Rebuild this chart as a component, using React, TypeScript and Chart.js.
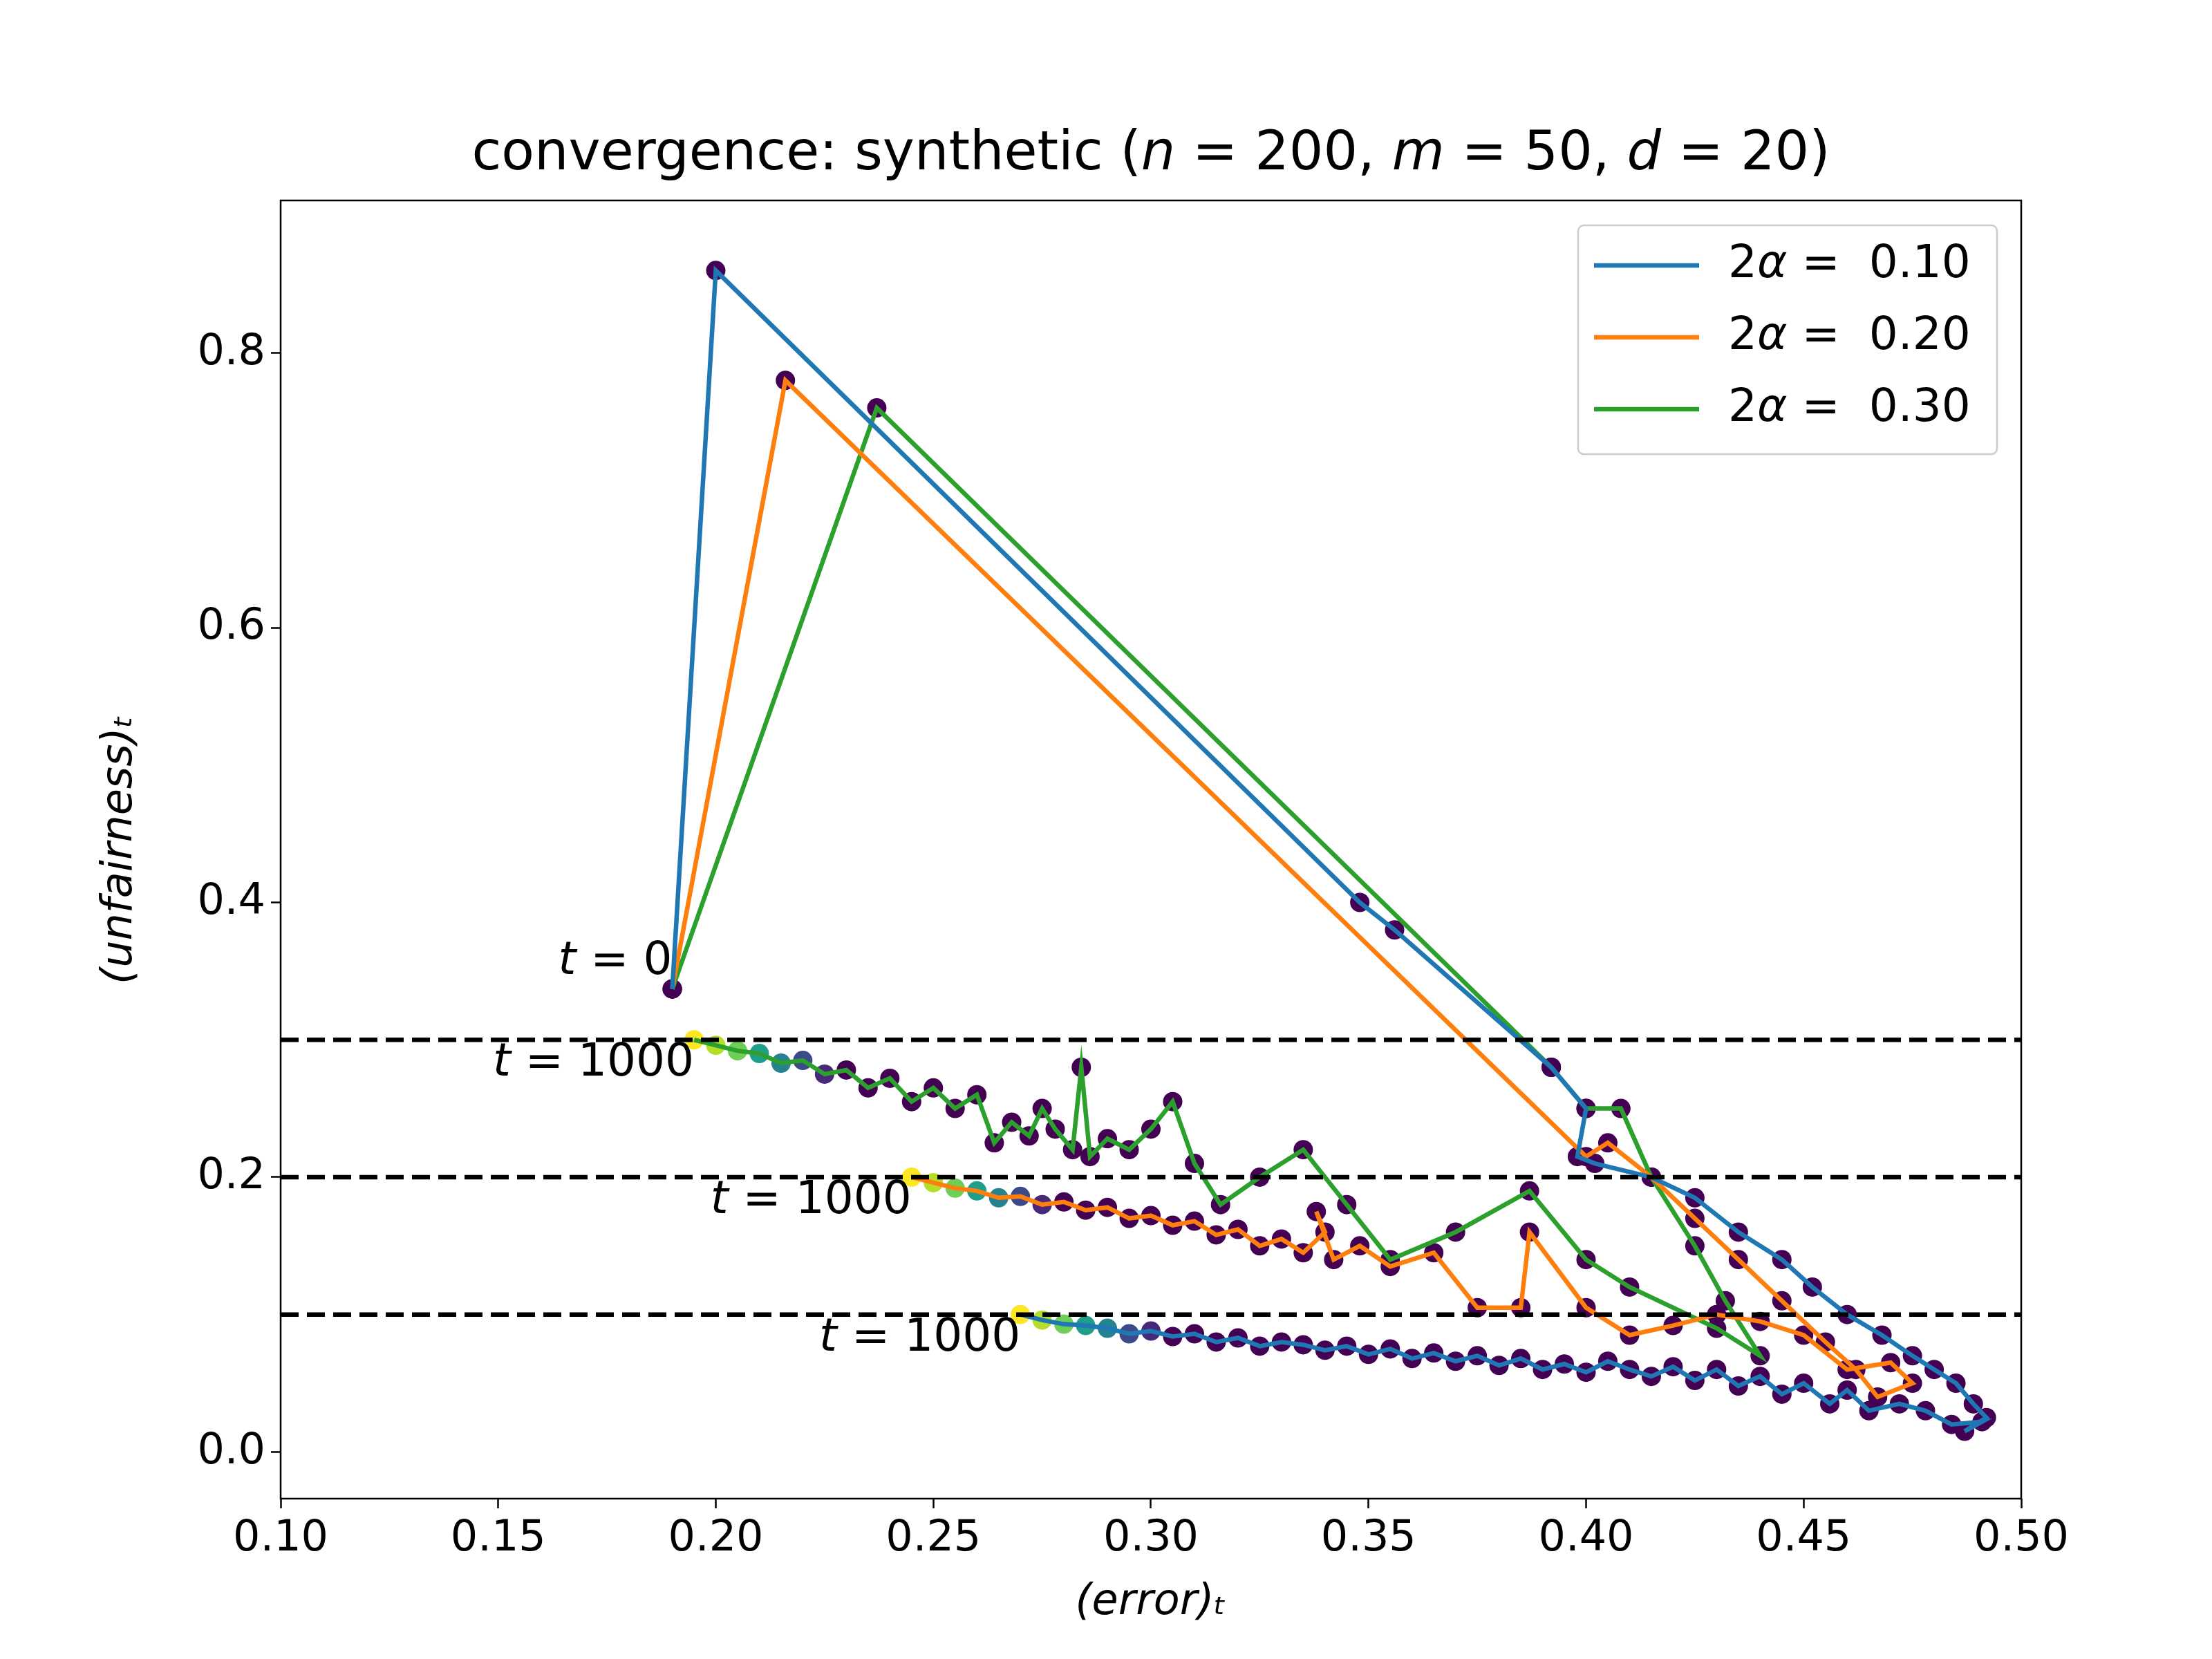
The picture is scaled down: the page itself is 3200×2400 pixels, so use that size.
import React, { useEffect, useRef } from "react";
import { Chart, registerables } from "chart.js";
Chart.register(...registerables);

const blueX = [0.19,0.200,0.348,0.356,0.392,0.400,0.398,0.402,0.415,0.425,0.435,0.445,0.452,0.460,0.468,0.475,0.480,0.485,0.489,0.492,0.487,0.491,0.484,0.478,0.472,0.465,0.460,0.456,0.450,0.445,0.440,0.435,0.430,0.425,0.420,0.415,0.410,0.405,0.400,0.395,0.390,0.385,0.380,0.375,0.370,0.365,0.360,0.355,0.350,0.345,0.340,0.335,0.330,0.325,0.320,0.315,0.310,0.305,0.300,0.295,0.290,0.285,0.280,0.275,0.270];
const blueY = [0.337,0.860,0.400,0.380,0.280,0.250,0.215,0.210,0.200,0.185,0.160,0.140,0.120,0.100,0.085,0.070,0.060,0.050,0.035,0.025,0.015,0.022,0.020,0.030,0.035,0.030,0.045,0.035,0.050,0.042,0.055,0.048,0.060,0.052,0.062,0.055,0.060,0.066,0.058,0.064,0.060,0.068,0.063,0.070,0.066,0.072,0.068,0.075,0.071,0.077,0.074,0.078,0.080,0.077,0.083,0.080,0.086,0.084,0.088,0.086,0.090,0.092,0.093,0.096,0.100];
const orangeX = [0.19,0.216,0.400,0.405,0.415,0.425,0.435,0.445,0.455,0.462,0.467,0.475,0.470,0.460,0.450,0.440,0.430,0.420,0.410,0.400,0.387,0.385,0.375,0.365,0.355,0.348,0.342,0.338,0.340,0.335,0.330,0.325,0.320,0.315,0.310,0.305,0.300,0.295,0.290,0.285,0.280,0.275,0.270,0.265,0.260,0.255,0.250,0.245];
const orangeY = [0.337,0.780,0.215,0.225,0.200,0.170,0.140,0.110,0.080,0.060,0.040,0.050,0.065,0.060,0.085,0.095,0.100,0.092,0.085,0.105,0.160,0.105,0.105,0.145,0.135,0.150,0.140,0.175,0.160,0.145,0.155,0.150,0.162,0.158,0.168,0.165,0.172,0.170,0.178,0.176,0.182,0.180,0.186,0.185,0.190,0.192,0.196,0.200];
const greenX = [0.19,0.237,0.392,0.400,0.408,0.415,0.425,0.432,0.440,0.430,0.410,0.400,0.387,0.370,0.355,0.345,0.335,0.325,0.316,0.310,0.305,0.300,0.295,0.290,0.286,0.284,0.282,0.278,0.275,0.272,0.268,0.264,0.260,0.255,0.250,0.245,0.240,0.235,0.230,0.225,0.220,0.215,0.210,0.205,0.200,0.195];
const greenY = [0.337,0.760,0.280,0.250,0.250,0.200,0.150,0.110,0.070,0.090,0.120,0.140,0.190,0.160,0.140,0.180,0.220,0.200,0.180,0.210,0.255,0.235,0.220,0.228,0.215,0.280,0.220,0.235,0.250,0.230,0.240,0.225,0.260,0.250,0.265,0.255,0.272,0.265,0.278,0.275,0.285,0.283,0.290,0.292,0.296,0.300];
const thresholds = [0.1, 0.2, 0.3];
const legendLabels = ["2α =  0.10", "2α =  0.20", "2α =  0.30"];
const seriesColors = ["#1f77b4", "#ff7f0e", "#2ca02c"];
const xTicks = [0.10,0.15,0.20,0.25,0.30,0.35,0.40,0.45,0.50];
const yTicks = [0.0,0.2,0.4,0.6,0.8];

const viridis = ["#440154","#482878","#3e4989","#31688e","#26828e","#1f9e89","#35b779","#6ece58","#b5de2b","#fde725"];
function vcolor(f: number) { const i = Math.min(9, Math.floor(f * 9.999)); return viridis[i]; }

function pts(xs: number[], ys: number[]) { return xs.map((x, i) => ({ x, y: ys[i] })); }
function dotColors(n: number) {
  return Array.from({ length: n }, (_, i) => { const k = n - 1 - i; return k > 6 ? viridis[0] : vcolor(1 - k / 7); });
}

const F = "DejaVu Sans";

export default function App() {
  const ref = useRef<HTMLCanvasElement>(null);
  useEffect(() => {
    const series = [[blueX, blueY], [orangeX, orangeY], [greenX, greenY]];
    const datasets: any[] = [];
    thresholds.forEach(t => datasets.push({ type: "line", data: [{ x: 0.1, y: t }, { x: 0.5, y: t }], borderColor: "#000", borderWidth: 6.5, borderDash: [26, 12], pointRadius: 0, order: 1 }));
    series.forEach(([xs, ys]) => datasets.push({ type: "scatter", data: pts(xs, ys), pointRadius: 14, pointBackgroundColor: dotColors(xs.length), pointBorderWidth: 0, order: 5 }));
    series.forEach(([xs, ys], i) => datasets.push({ type: "line", data: pts(xs, ys), borderColor: seriesColors[i], borderWidth: 6.5, pointRadius: 0, order: 2 }));

    const deco = {
      id: "deco",
      afterDraw(c: any) {
        const ctx = c.ctx; const xs = c.scales.x, ys = c.scales.y; const a = c.chartArea;
        ctx.save();
        ctx.strokeStyle = "#000"; ctx.lineWidth = 2.5; ctx.strokeRect(a.left, a.top, a.right - a.left, a.bottom - a.top);
        const parts: [string, boolean][] = [["convergence: synthetic (", false], ["n", true], [" = 200, ", false], ["m", true], [" = 50, ", false], ["d", true], [" = 20)", false]];
        ctx.fillStyle = "#000"; ctx.textBaseline = "alphabetic";
        let w = 0; parts.forEach(([s, it]) => { ctx.font = `${it ? "italic " : ""}78px ${F}`; w += ctx.measureText(s).width; });
        let x = (a.left + a.right) / 2 - w / 2;
        parts.forEach(([s, it]) => { ctx.font = `${it ? "italic " : ""}78px ${F}`; ctx.textAlign = "left"; ctx.fillText(s, x, 245); x += ctx.measureText(s).width; });
        const lab = (txt: string, px: number, py: number) => {
          ctx.textAlign = "right"; ctx.textBaseline = "alphabetic";
          ctx.font = `66px ${F}`; const rest = ctx.measureText(" = " + txt).width;
          ctx.fillText(" = " + txt, px, py);
          ctx.font = `italic 66px ${F}`; ctx.fillText("t", px - rest, py);
        };
        lab("0", xs.getPixelForValue(0.19), ys.getPixelForValue(0.337) - 22);
        lab("1000", xs.getPixelForValue(0.195), ys.getPixelForValue(0.3) + 52);
        lab("1000", xs.getPixelForValue(0.245), ys.getPixelForValue(0.2) + 52);
        lab("1000", xs.getPixelForValue(0.27), ys.getPixelForValue(0.1) + 52);
        ctx.fillStyle = "rgba(255,255,255,0.8)"; ctx.strokeStyle = "#ccc"; ctx.lineWidth = 2.5;
        ctx.beginPath(); (ctx as any).roundRect(2283, 326, 606, 331, 8); ctx.fill(); ctx.stroke();
        legendLabels.forEach((l, i) => {
          const y = 384 + i * 104;
          ctx.strokeStyle = seriesColors[i]; ctx.lineWidth = 6.5; ctx.beginPath(); ctx.moveTo(2306, y); ctx.lineTo(2458, y); ctx.stroke();
          ctx.fillStyle = "#000"; ctx.textAlign = "left"; ctx.textBaseline = "middle";
          ctx.font = `66px ${F}`; ctx.fillText("2", 2500, y); const w2 = ctx.measureText("2").width;
          ctx.font = `italic 66px ${F}`; ctx.fillText("α", 2500 + w2, y); const wa = ctx.measureText("α").width;
          ctx.font = `66px ${F}`; ctx.fillText(l.slice(2), 2500 + w2 + wa, y);
        });
        ctx.fillStyle = "#000"; ctx.textAlign = "center"; ctx.textBaseline = "alphabetic";
        ctx.font = `italic 62px ${F}`; ctx.fillText("(error)ₜ", (a.left + a.right) / 2, 2335);
        ctx.translate(190, (a.top + a.bottom) / 2); ctx.rotate(-Math.PI / 2); ctx.fillText("(unfairness)ₜ", 0, 0);
        ctx.restore();
      },
    };

    const grid = { display: true, drawOnChartArea: false, drawTicks: true, tickLength: 14, tickWidth: 2.5, tickColor: "#000", color: "#000" };
    const chart = new Chart(ref.current!, {
      data: { datasets },
      options: {
        animation: false, responsive: false, devicePixelRatio: 1,
        layout: { padding: { top: 290, right: 276, left: 0, bottom: 0 } },
        plugins: { legend: { display: false }, tooltip: { enabled: false } },
        scales: {
          x: { type: "linear", min: 0.1, max: 0.5, grid,
            border: { display: false },
            afterBuildTicks: (s: any) => { s.ticks = xTicks.map(v => ({ value: v })); },
            afterFit: (s: any) => { s.height = 232; },
            ticks: { color: "#000", font: { family: F, size: 62 }, padding: 8, callback: (v: any) => Number(v).toFixed(2) } },
          y: { type: "linear", min: -0.034, max: 0.911, grid,
            border: { display: false },
            afterBuildTicks: (s: any) => { s.ticks = yTicks.map(v => ({ value: v })); },
            afterFit: (s: any) => { s.width = 406; },
            ticks: { color: "#000", font: { family: F, size: 62 }, padding: 8, callback: (v: any) => Number(v).toFixed(1) } },
        },
      } as any,
      plugins: [deco],
    });
    return () => chart.destroy();
  }, []);
  return <canvas ref={ref} width={3200} height={2400} style={{ position: "absolute", left: 0, top: 0 }} />;
}
